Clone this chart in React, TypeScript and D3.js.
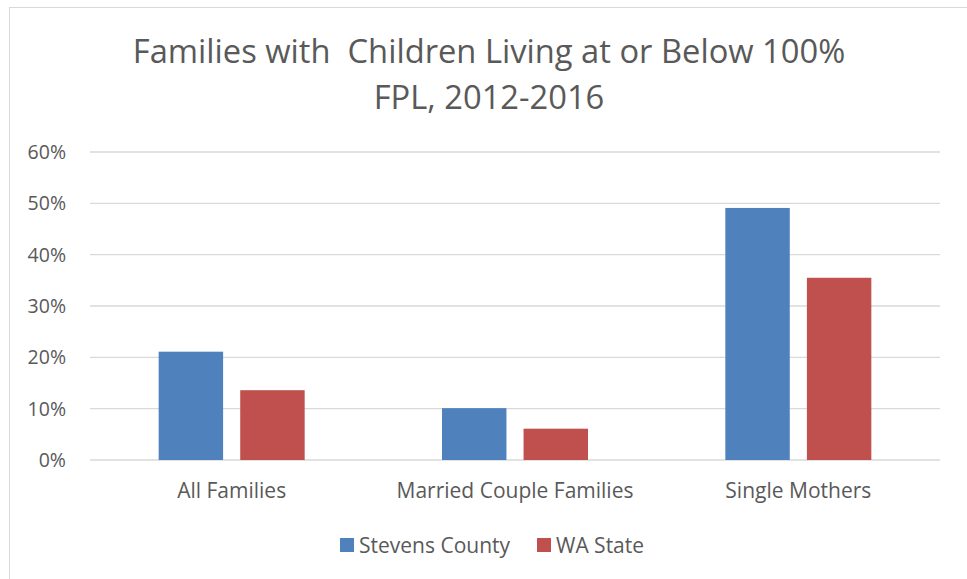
import React from "react";
import * as d3 from "d3";

const categories = ["All Families", "Married Couple Families", "Single Mothers"];
const seriesNames = ["Stevens County", "WA State"];
const stevens = [0.211, 0.101, 0.491];
const waState = [0.136, 0.061, 0.355];
const yTicks = [0, 0.1, 0.2, 0.3, 0.4, 0.5, 0.6];
const colors = ["#4F81BD", "#C0504D"];

const W = 967, H = 579;
const left = 90, right = 940, top = 152, bottom = 460;
const FONT = "'Open Sans', Lato, sans-serif";

export default function App() {
  const x = d3.scaleBand<string>().domain(categories).range([left, right]);
  const inner = d3.scaleBand<string>().domain(seriesNames).range([0, 146]).paddingInner(0.21);
  const y = d3.scaleLinear().domain([0, 0.6]).range([bottom, top]);
  const fmt = d3.format(".0%");
  const series = [stevens, waState];
  return (
    <svg width={W} height={H} style={{ position: "absolute", left: 0, top: 0, background: "#fff" }}>
      <rect x={9.5} y={7.5} width={W + 20} height={H + 20} fill="#fff" stroke="#D9D9D9" strokeWidth={1} />
      <text x={489} y={63} textAnchor="middle" fontFamily={FONT} fontSize={32.7} fill="#595959" style={{ whiteSpace: "pre" }}>
        {"Families with  Children Living at or Below 100%"}
      </text>
      <text x={489} y={109} textAnchor="middle" fontFamily={FONT} fontSize={32.7} fill="#595959">
        FPL, 2012-2016
      </text>
      {yTicks.map((t) => (
        <g key={t}>
          <line x1={left} x2={right} y1={y(t)} y2={y(t)} stroke="#D9D9D9" strokeWidth={1.3} />
          <text x={66} y={y(t) + 7} textAnchor="end" fontFamily={FONT} fontSize={19.5} fill="#595959">
            {fmt(t)}
          </text>
        </g>
      ))}
      {categories.map((c, i) => {
        const cx = x(c)! + x.bandwidth() / 2;
        const g0 = cx - 73;
        return (
          <g key={c}>
            {series.map((s, j) => (
              <rect
                key={j}
                x={g0 + inner(seriesNames[j])!}
                y={y(s[i])}
                width={inner.bandwidth()}
                height={bottom - y(s[i])}
                fill={colors[j]}
              />
            ))}
            <text x={cx} y={498} textAnchor="middle" fontFamily={FONT} fontSize={21} fill="#595959">
              {c}
            </text>
          </g>
        );
      })}
      {seriesNames.map((n, j) => {
        const lx = j === 0 ? 340 : 537;
        return (
          <g key={n}>
            <rect x={lx} y={538} width={14} height={14} fill={colors[j]} />
            <text x={lx + 19} y={553} fontFamily={FONT} fontSize={21} fill="#595959">
              {n}
            </text>
          </g>
        );
      })}
    </svg>
  );
}
